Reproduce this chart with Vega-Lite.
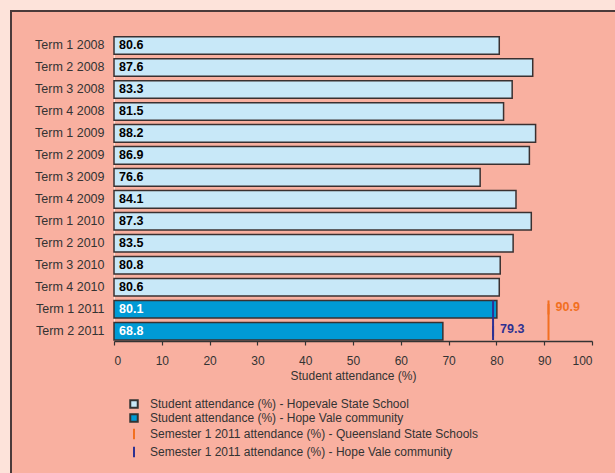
{
  "$schema": "https://vega.github.io/schema/vega-lite/v6.json",
  "autosize": {"type": "none"},
  "padding": {"left": 11, "top": 11, "right": -2, "bottom": -2},
  "width": 606,
  "height": 464,
  "background": "#fde3da",
  "config": {
    "font": "Liberation Sans",
    "view": {"fill": "#f9b0a0", "stroke": "#4a3a3a", "strokeWidth": 2},
    "axis": {"labelFont": "Liberation Sans", "titleFont": "Liberation Sans", "labelColor": "#333333", "titleColor": "#333333", "grid": false},
    "legend": {
      "orient": "none", "legendX": 117, "legendY": 387, "title": null, "padding": 0,
      "labelFontSize": 12, "labelColor": "#333333", "labelFont": "Liberation Sans", "labelLimit": 400,
      "symbolSize": 56, "labelOffset": 10, "rowPadding": -2, "symbolStrokeWidth": 2
    }
  },
  "datasets": {
    "bars": [
      {"term": "Term 1 2008", "value": 80.6, "series": "Student attendance (%) - Hopevale State School"},
      {"term": "Term 2 2008", "value": 87.6, "series": "Student attendance (%) - Hopevale State School"},
      {"term": "Term 3 2008", "value": 83.3, "series": "Student attendance (%) - Hopevale State School"},
      {"term": "Term 4 2008", "value": 81.5, "series": "Student attendance (%) - Hopevale State School"},
      {"term": "Term 1 2009", "value": 88.2, "series": "Student attendance (%) - Hopevale State School"},
      {"term": "Term 2 2009", "value": 86.9, "series": "Student attendance (%) - Hopevale State School"},
      {"term": "Term 3 2009", "value": 76.6, "series": "Student attendance (%) - Hopevale State School"},
      {"term": "Term 4 2009", "value": 84.1, "series": "Student attendance (%) - Hopevale State School"},
      {"term": "Term 1 2010", "value": 87.3, "series": "Student attendance (%) - Hopevale State School"},
      {"term": "Term 2 2010", "value": 83.5, "series": "Student attendance (%) - Hopevale State School"},
      {"term": "Term 3 2010", "value": 80.8, "series": "Student attendance (%) - Hopevale State School"},
      {"term": "Term 4 2010", "value": 80.6, "series": "Student attendance (%) - Hopevale State School"},
      {"term": "Term 1 2011", "value": 80.1, "series": "Student attendance (%) - Hope Vale community"},
      {"term": "Term 2 2011", "value": 68.8, "series": "Student attendance (%) - Hope Vale community"}
    ],
    "refs": [
      {"series": "Semester 1 2011 attendance (%) - Queensland State Schools", "value": 90.9, "labelTerm": "Term 1 2011"},
      {"series": "Semester 1 2011 attendance (%) - Hope Vale community", "value": 79.3, "labelTerm": "Term 2 2011"}
    ]
  },
  "layer": [
    {
      "data": {"name": "bars"},
      "mark": {"type": "bar", "stroke": "#3a3030", "strokeWidth": 1.5},
      "encoding": {
        "y": {
          "field": "term", "type": "nominal", "sort": null,
          "scale": {"range": [25.7, 329], "paddingInner": 0.2, "paddingOuter": 0},
          "axis": {"title": null, "offset": -103, "ticks": false, "tickSize": 0, "labelPadding": 10, "labelFontSize": 12.5, "domain": true, "domainColor": "#fbe2da", "domainWidth": 1}
        },
        "x": {
          "field": "value", "type": "quantitative",
          "scale": {"domain": [0, 100], "range": [103, 581], "nice": false, "zero": true},
          "axis": {"title": "Student attendance (%)", "values": [0, 10, 20, 30, 40, 50, 60, 70, 80, 90, 100], "offset": -134, "tickSize": 4, "tickColor": "#333333", "domainColor": "#333333", "domainWidth": 1.5, "tickWidth": 1.2, "labelPadding": 10, "labelFontSize": 12, "titleFontSize": 12, "titleFontWeight": "normal", "titlePadding": 4}
        },
        "fill": {
          "field": "series", "type": "nominal",
          "scale": {
            "domain": ["Student attendance (%) - Hopevale State School", "Student attendance (%) - Hope Vale community", "Semester 1 2011 attendance (%) - Queensland State Schools", "Semester 1 2011 attendance (%) - Hope Vale community"],
            "range": ["#c8e8f8", "#009ad5", "#f26f21", "#2e3192"]
          }
        }
      }
    },
    {
      "data": {"name": "bars"},
      "mark": {"type": "text", "align": "left", "baseline": "middle", "dx": 5, "fontWeight": "bold", "fontSize": 12.5},
      "encoding": {
        "y": {"field": "term", "type": "nominal", "sort": null},
        "x": {"datum": 0, "type": "quantitative"},
        "text": {"field": "value", "type": "quantitative", "format": ".1f"},
        "color": {"condition": {"test": "datum.series === 'Student attendance (%) - Hope Vale community'", "value": "#ffffff"}, "value": "#000000"}
      }
    },
    {
      "data": {"name": "refs"},
      "mark": {"type": "rule", "strokeWidth": 2},
      "encoding": {
        "x": {"field": "value", "type": "quantitative"},
        "y": {"datum": "Term 1 2011", "type": "nominal", "bandPosition": 0},
        "y2": {"datum": "Term 2 2011", "bandPosition": 1},
        "stroke": {
          "field": "series", "type": "nominal",
          "scale": {
            "domain": ["Student attendance (%) - Hopevale State School", "Student attendance (%) - Hope Vale community", "Semester 1 2011 attendance (%) - Queensland State Schools", "Semester 1 2011 attendance (%) - Hope Vale community"],
            "range": ["#333333", "#333333", "#f26f21", "#2e3192"]
          }
        }
      }
    },
    {
      "data": {"name": "refs"},
      "mark": {"type": "point", "filled": true, "size": 56, "strokeWidth": 2, "opacity": 1},
      "encoding": {
        "x": {"field": "value", "type": "quantitative"},
        "y": {"field": "labelTerm", "type": "nominal", "sort": null},
        "shape": {
          "field": "series", "type": "nominal",
          "scale": {
            "domain": ["Student attendance (%) - Hopevale State School", "Student attendance (%) - Hope Vale community", "Semester 1 2011 attendance (%) - Queensland State Schools", "Semester 1 2011 attendance (%) - Hope Vale community"],
            "range": ["square", "square", "M0,-1.4V1.4", "M0,-1.4V1.4"]
          }
        },
        "fill": {"field": "series", "type": "nominal"},
        "stroke": {"field": "series", "type": "nominal"}
      }
    },
    {
      "data": {"name": "refs"},
      "mark": {"type": "text", "align": "left", "baseline": "middle", "dx": 7, "dy": -2, "fontWeight": "bold", "fontSize": 12.5},
      "encoding": {
        "x": {"field": "value", "type": "quantitative"},
        "y": {"field": "labelTerm", "type": "nominal", "sort": null},
        "text": {"field": "value", "type": "quantitative", "format": ".1f"},
        "color": {"condition": {"test": "datum.value > 85", "value": "#f26f21"}, "value": "#2e3192"}
      }
    }
  ]
}
